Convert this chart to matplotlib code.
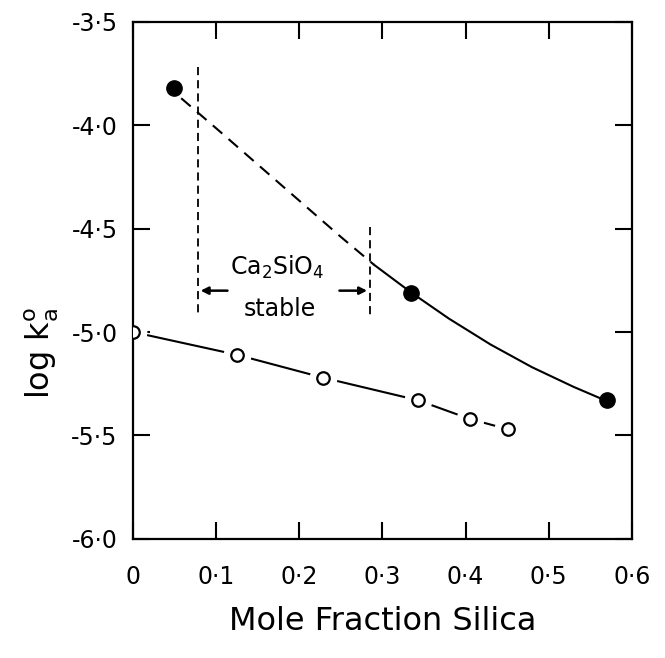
import numpy as np
import matplotlib
matplotlib.use('Agg')
from matplotlib import pyplot as plt
from matplotlib.ticker import FuncFormatter

# measured points
filled_x = [0.049, 0.335, 0.570]
filled_y = [-3.82, -4.81, -5.33]
open_x = [0.0, 0.125, 0.228, 0.343, 0.405, 0.451]
open_y = [-5.00, -5.11, -5.22, -5.33, -5.42, -5.47]

# hand-drawn fit line through the filled points
fit_dash_x = [0.058, 0.10, 0.15, 0.20, 0.25, 0.29]
fit_dash_y = [-3.87, -4.015, -4.19, -4.365, -4.54, -4.675]
fit_solid_x = [0.29, 0.335, 0.38, 0.43, 0.48, 0.53, 0.562]
fit_solid_y = [-4.675, -4.81, -4.935, -5.06, -5.17, -5.265, -5.32]

# Ca2SiO4 stability field bounds
stable_lo = 0.078
stable_hi = 0.285

x_ticks = [0, 0.1, 0.2, 0.3, 0.4, 0.5, 0.6]
y_ticks = [-6.0, -5.5, -5.0, -4.5, -4.0, -3.5]

plt.rcParams['font.family'] = 'DejaVu Sans'

fig = plt.figure(figsize=(6.65, 6.58), dpi=100)
ax = fig.add_axes([0.2, 0.181, 0.75, 0.786])

ax.plot(fit_dash_x, fit_dash_y, color='k', lw=1.5, ls=(0, (6, 4)))
ax.plot(fit_solid_x, fit_solid_y, color='k', lw=1.5)
ax.plot(open_x, open_y, color='k', lw=1.5, zorder=2)

ax.plot(filled_x, filled_y, 'o', color='k', ms=11, zorder=5)
# white halo so the connecting line stops short of each open circle
ax.plot(open_x, open_y, 'o', mfc='white', mec='white', ms=19, zorder=2.2)
ax.plot(open_x, open_y, 'o', mfc='white', mec='k', mew=1.6, ms=9, zorder=5)

# stability field markers
ax.plot([stable_lo, stable_lo], [-3.72, -4.92], color='k', lw=1.3, ls=(0, (4.5, 2.8)))
ax.plot([stable_hi, stable_hi], [-4.49, -4.92], color='k', lw=1.3, ls=(0, (4.5, 2.8)))
ax.annotate('', xy=(stable_lo, -4.80), xytext=(0.117, -4.80),
            arrowprops=dict(arrowstyle='-|>', color='k', lw=1.8, mutation_scale=11))
ax.annotate('', xy=(stable_hi, -4.80), xytext=(0.245, -4.80),
            arrowprops=dict(arrowstyle='-|>', color='k', lw=1.8, mutation_scale=11))
ax.text(0.174, -4.69, r'Ca$_\mathrm{2}$SiO$_\mathrm{4}$', ha='center', va='center', fontsize=17)
ax.text(0.177, -4.89, 'stable', ha='center', va='center', fontsize=17)

ax.set_xlim(0, 0.6)
ax.set_ylim(-6.0, -3.5)
ax.set_xticks(x_ticks)
ax.set_yticks(y_ticks)

def dot_fmt(v, pos):
    if abs(v) < 1e-9:
        return '0'
    return f'{v:.1f}'.replace('.', '\u00b7')

ax.xaxis.set_major_formatter(FuncFormatter(dot_fmt))
ax.yaxis.set_major_formatter(FuncFormatter(dot_fmt))
ax.tick_params(direction='in', length=12, width=1.5, top=True, right=True,
               labelsize=17)
ax.tick_params(axis='x', pad=19)
ax.tick_params(axis='y', pad=11)
for s in ax.spines.values():
    s.set_linewidth(1.6)

ax.set_xlabel('Mole Fraction Silica', fontsize=23, labelpad=12)
ax.set_ylabel(r'log k$_\mathrm{a}^\mathrm{o}$', fontsize=23)
ax.yaxis.set_label_coords(-0.145, 0.36)

plt.savefig('out.png', dpi=100)
